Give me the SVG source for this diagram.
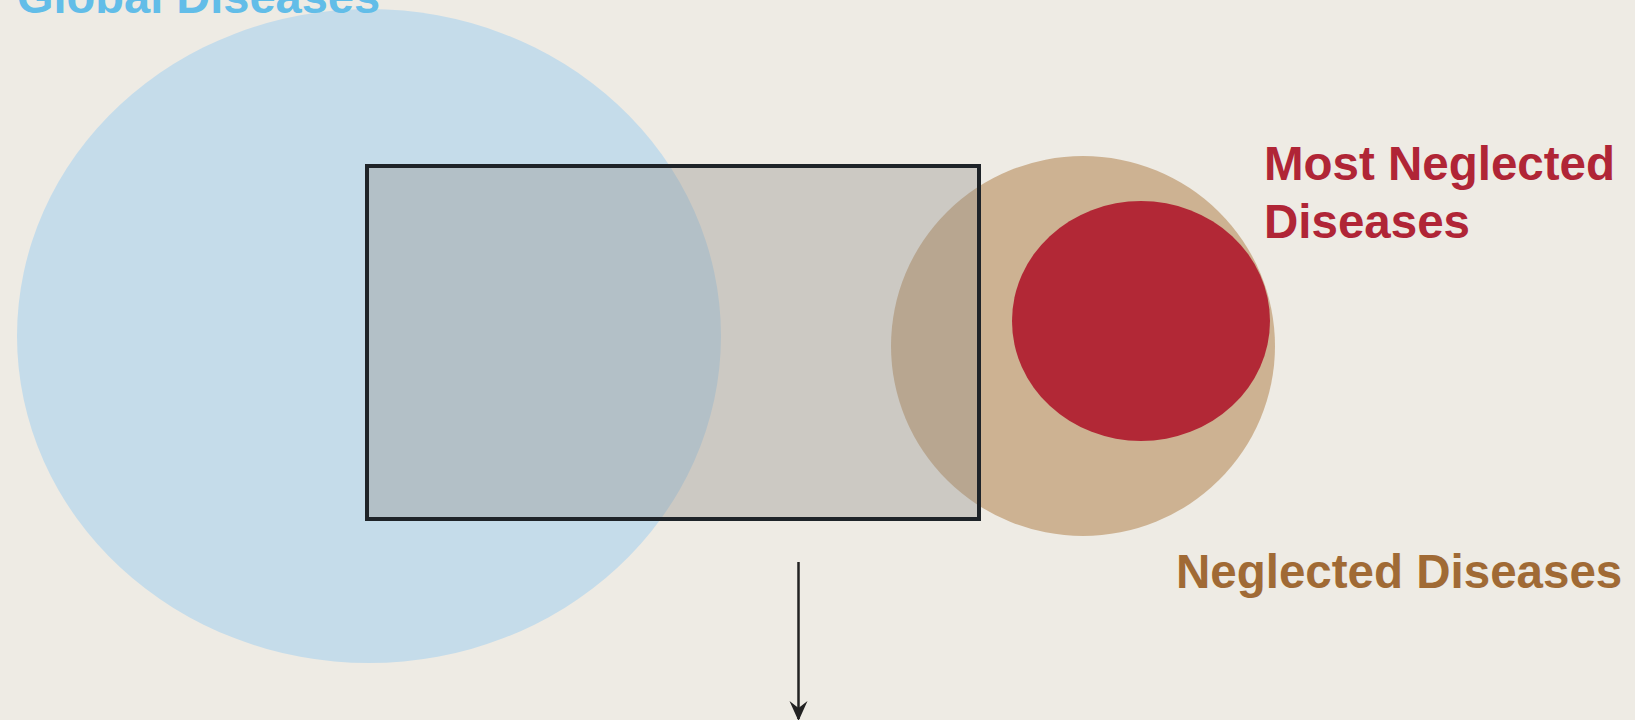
<svg xmlns="http://www.w3.org/2000/svg" width="1635" height="720" viewBox="0 0 1635 720">
<defs>
<style>
.lbl{font-family:"Liberation Sans",Arial,sans-serif;font-weight:bold;}
</style>
<marker id="ah" viewBox="0 0 20 20" refX="18" refY="10" markerWidth="20" markerHeight="20" markerUnits="userSpaceOnUse" orient="auto">
<path d="M0,1 L7,10 L0,19 L20,10 Z" fill="#222"/>
</marker>
</defs>
<rect width="1635" height="720" fill="#eeebe4"/>
<g id="global">
<ellipse cx="369" cy="336" rx="352" ry="327" fill="#c5dcea"/>
<text class="lbl" x="17" y="13" font-size="47" fill="#62bde8">Global Diseases</text>
</g>
<g id="neglected">
<ellipse cx="1083" cy="346" rx="192" ry="190" fill="#cdb292"/>
<text class="lbl" x="1176" y="588" font-size="47.5" fill="#a06a35">Neglected Diseases</text>
</g>
<g id="most-neglected">
<ellipse cx="1141" cy="321" rx="129" ry="120" fill="#b22836"/>
<text class="lbl" font-size="47.5" fill="#b02536"><tspan x="1264" y="180">Most Neglected</tspan><tspan x="1264" y="238">Diseases</tspan></text>
</g>
<g id="overlap">
<rect x="367" y="166" width="612" height="353" fill="#97948f" fill-opacity="0.38" stroke="#1e2328" stroke-width="4"/>
</g>
<g id="connectors">
<line x1="798.5" y1="562" x2="798.5" y2="719" stroke="#222" stroke-width="2.5" marker-end="url(#ah)"/>
</g>
</svg>
